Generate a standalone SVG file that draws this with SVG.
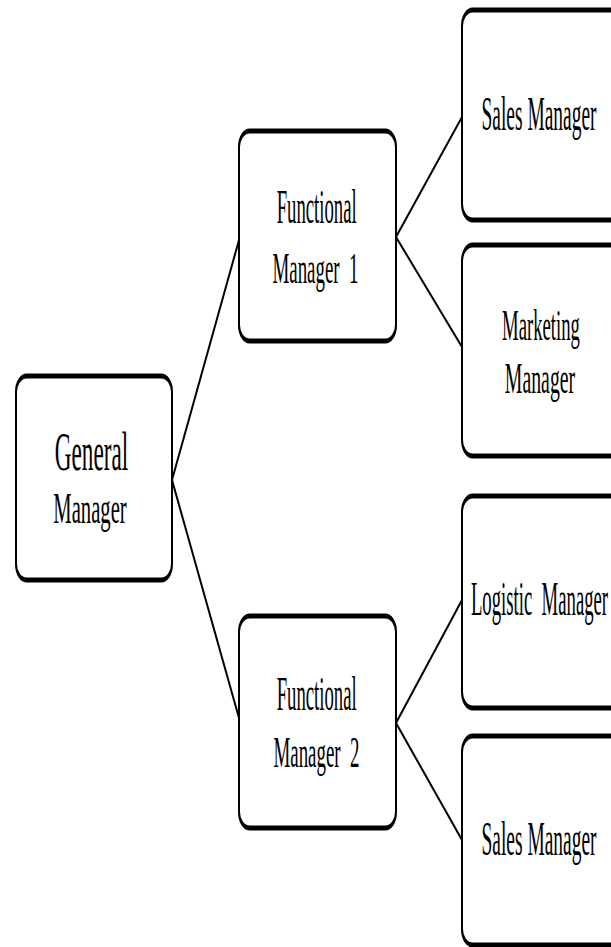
<svg xmlns="http://www.w3.org/2000/svg" width="611" height="947" viewBox="0 0 611 947">
<style>
.box{fill:#fff;stroke:#000;stroke-width:5}
.lbl{font-family:"Liberation Serif","Times New Roman",serif;fill:#000;text-anchor:middle}
.conn line{stroke:#000;stroke-width:2}
</style>
<rect width="611" height="947" fill="#fff"/>
<g class="conn" id="connectors">
<line x1="172" y1="480" x2="239" y2="240"/>
<line x1="172" y1="480" x2="239" y2="718"/>
<line x1="396" y1="237" x2="462" y2="117"/>
<line x1="396" y1="237" x2="462" y2="347"/>
<line x1="396" y1="723" x2="462" y2="600"/>
<line x1="396" y1="723" x2="462" y2="840"/>
</g>
<g id="general-manager">
<rect class="box" transform="translate(16,376) scale(0.4,1)" width="390" height="204" rx="27" ry="16"/>
<text class="lbl" transform="translate(91.5,470) scale(0.43,1)" font-size="54">General</text>
<text class="lbl" transform="translate(90,523) scale(0.47,1)" font-size="44">Manager</text>
</g>
<g id="functional-manager-1">
<rect class="box" transform="translate(239,131) scale(0.4,1)" width="392.5" height="210" rx="27" ry="16"/>
<text class="lbl" transform="translate(316.7,223) scale(0.39,1)" font-size="48">Functional</text>
<text class="lbl" xml:space="preserve" transform="translate(315.5,283) scale(0.42,1)" font-size="45">Manager  1</text>
</g>
<g id="functional-manager-2">
<rect class="box" transform="translate(239,616) scale(0.4,1)" width="392.5" height="212" rx="27" ry="16"/>
<text class="lbl" transform="translate(316.7,710) scale(0.39,1)" font-size="48">Functional</text>
<text class="lbl" xml:space="preserve" transform="translate(316.5,767) scale(0.42,1)" font-size="45">Manager  2</text>
</g>
<g id="sales-manager-1">
<rect class="box" transform="translate(462,10) scale(0.4,1)" width="500" height="210" rx="27" ry="16"/>
<text class="lbl" transform="translate(539,130) scale(0.405,1)" font-size="48">Sales Manager</text>
</g>
<g id="marketing-manager">
<rect class="box" transform="translate(462,245) scale(0.4,1)" width="500" height="211" rx="27" ry="16"/>
<text class="lbl" transform="translate(541,340) scale(0.416,1)" font-size="45">Marketing</text>
<text class="lbl" transform="translate(540,393) scale(0.44,1)" font-size="45">Manager</text>
</g>
<g id="logistic-manager">
<rect class="box" transform="translate(462,496) scale(0.4,1)" width="500" height="212" rx="27" ry="16"/>
<text class="lbl" xml:space="preserve" transform="translate(539.5,615) scale(0.39,1)" font-size="48">Logistic  Manager</text>
</g>
<g id="sales-manager-2">
<rect class="box" transform="translate(462,736) scale(0.4,1)" width="500" height="209" rx="27" ry="16"/>
<text class="lbl" transform="translate(539,855) scale(0.405,1)" font-size="48">Sales Manager</text>
</g>
</svg>
